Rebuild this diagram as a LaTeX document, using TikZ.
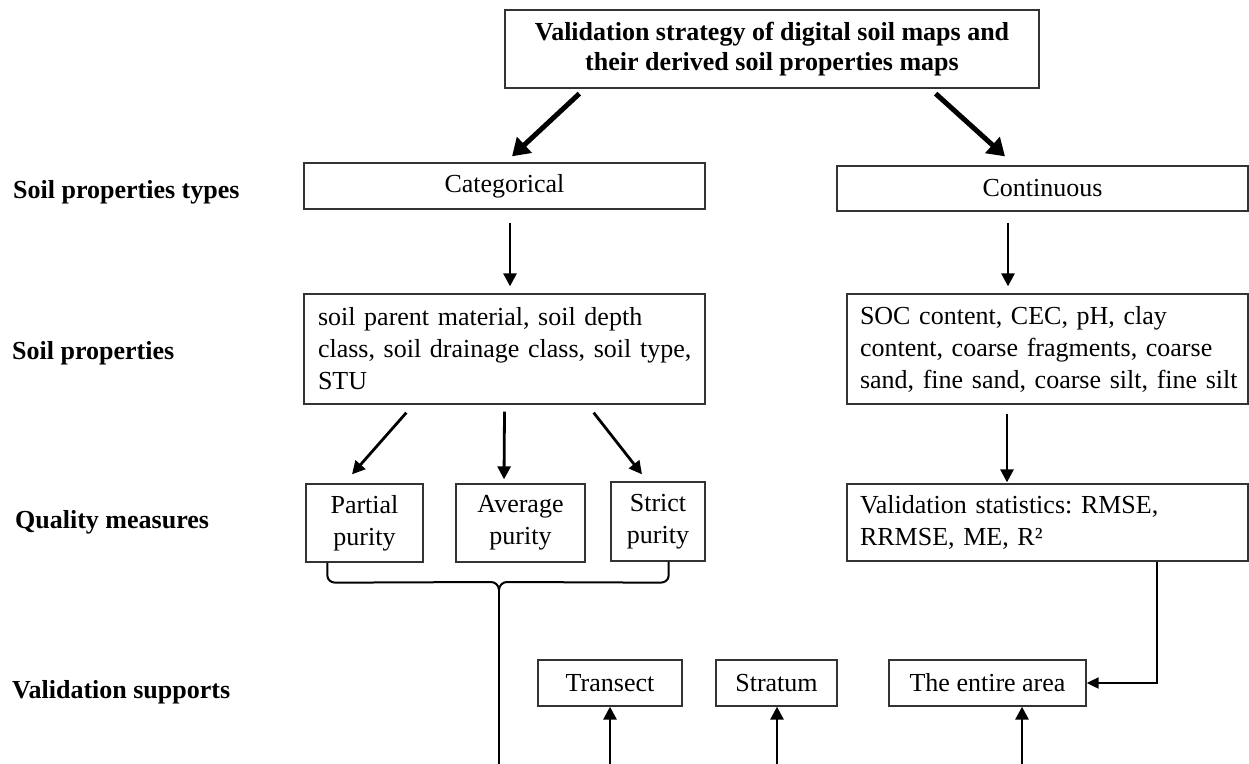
\documentclass[tikz,border=0pt]{standalone}
\usepackage{fontspec}
\setmainfont{Liberation Serif}
\usetikzlibrary{arrows.meta,calc}
\frenchspacing
\begin{document}
\begin{tikzpicture}[x=1pt,y=-1pt,
  box/.style={draw=black!80, line width=1.3pt, inner sep=0pt, font=\fontsize{26}{32}\selectfont},
  lbl/.style={anchor=base west, inner sep=0pt, font=\fontsize{26}{32}\selectfont\bfseries},
  arr/.style={line width=2.8pt, -{Triangle[length=13pt,width=13pt]}},
  bigarr/.style={line width=5pt, -{Triangle[length=17pt,width=21pt]}},
  thin/.style={line width=2pt}]
\useasboundingbox (0,0) rectangle (1249,763);
% boxes
\node[box, minimum width=534pt, minimum height=78pt, align=center, font=\fontsize{26}{30}\selectfont\bfseries] (title) at (772,49)
  {Validation strategy of digital soil maps and\\their derived soil properties maps};
\node[box, minimum width=401pt, minimum height=46pt] (cat) at (504.5,186) {Categorical};
\node[box, minimum width=411pt, minimum height=45pt] (cont) at (1042.5,188.5) {Continuous};
\node[box, minimum width=401pt, minimum height=110pt, text width=373pt, align=left] (catp) at (504.5,349)
  {\mbox{soil parent material, soil depth}\\\mbox{class, soil drainage class, soil type,}\\\mbox{STU}};
\node[box, minimum width=401pt, minimum height=110pt, text width=375pt, align=left] (contp) at (1047.5,349)
  {\mbox{SOC content, CEC, pH, clay}\\\mbox{content, coarse fragments, coarse}\\\mbox{sand, fine sand, coarse silt, fine silt}};
\node[box, minimum width=117pt, minimum height=78pt, align=center] (partial) at (364.5,523) {Partial\\purity};
\node[box, minimum width=129pt, minimum height=78pt, align=center] (average) at (520.5,523) {Average\\purity};
\node[box, minimum width=94pt, minimum height=79pt, align=center] (strict) at (658,521.5) {Strict\\purity};
\node[box, minimum width=401pt, minimum height=77pt, text width=375pt, align=left] (stats) at (1047.5,522.5)
  {\mbox{Validation statistics: RMSE,}\\\mbox{RRMSE, ME, R²}};
\node[box, minimum width=144pt, minimum height=46pt] (transect) at (610,683) {Transect};
\node[box, minimum width=121pt, minimum height=46pt] (stratum) at (776.5,683) {Stratum};
\node[box, minimum width=197pt, minimum height=46pt] (entire) at (987.5,683) {The entire area};
% left labels
\node[lbl] (l1) at (13,198) {Soil properties types};
\node[lbl] (l2) at (12,359) {Soil properties};
\node[lbl] (l3) at (15,528) {Quality measures};
\node[lbl] (l4) at (12,698) {Validation supports};
% arrows
\draw[bigarr] ($(title.south west)+(75,5)$) -- ($(cat.north)+(7.5,-6)$);
\draw[bigarr] ($(title.south east)+(-104,5)$) -- ($(cont.north)+(-37.5,-9)$);
\draw[arr] ($(cat.south)+(5.5,13)$) -- ($(catp.north)+(5.5,-7)$);
\draw[arr] ($(cont.south)+(-34.5,11)$) -- ($(contp.north)+(-39.5,-7)$);
\draw[arr] ($(catp.south west)+(103,8)$) -- ($(partial.north)+(-12.5,-9)$);
\draw[arr] ($(catp.south)+(0,7)$) -- ($(average.north)+(-16.5,-4)$);
\draw[arr] ($(catp.south east)+(-112,8)$) -- ($(strict.north)+(-16,-7)$);
\draw[arr] ($(contp.south)+(-40.5,9)$) -- ($(stats.north)+(-40.5,-1)$);
\draw[thin, -{Triangle[length=12pt,width=11pt]}] ($(stats.south east)+(-92,0)$) |- (entire.east);
% brace
\coordinate (bl) at ($(partial.south west)+(22,0)$);
\coordinate (br) at ($(strict.south east)+(-37,0)$);
\coordinate (cusp) at (499,590);
\draw[thin, line join=round] (bl) -- ++(0,13) to[out=-90,in=180] ++(8,7) -- (491,582) to[out=0,in=90] (cusp);
\draw[thin, line join=round] (br) -- ++(0,14) to[out=-90,in=0] ++(-8,7) -- (507,582) to[out=180,in=90] (cusp);
\coordinate (bot) at (499,765);
\draw[thin] (cusp) -- (bot);
% bottom arrows
\coordinate (b1) at (610,765);
\coordinate (b2) at (777,765);
\coordinate (b3) at (1022,765);
\draw[arr] (b1) -- (b1 |- transect.south);
\draw[arr] (b2) -- (b2 |- stratum.south);
\draw[arr] (b3) -- (b3 |- entire.south);
\end{tikzpicture}
\end{document}
